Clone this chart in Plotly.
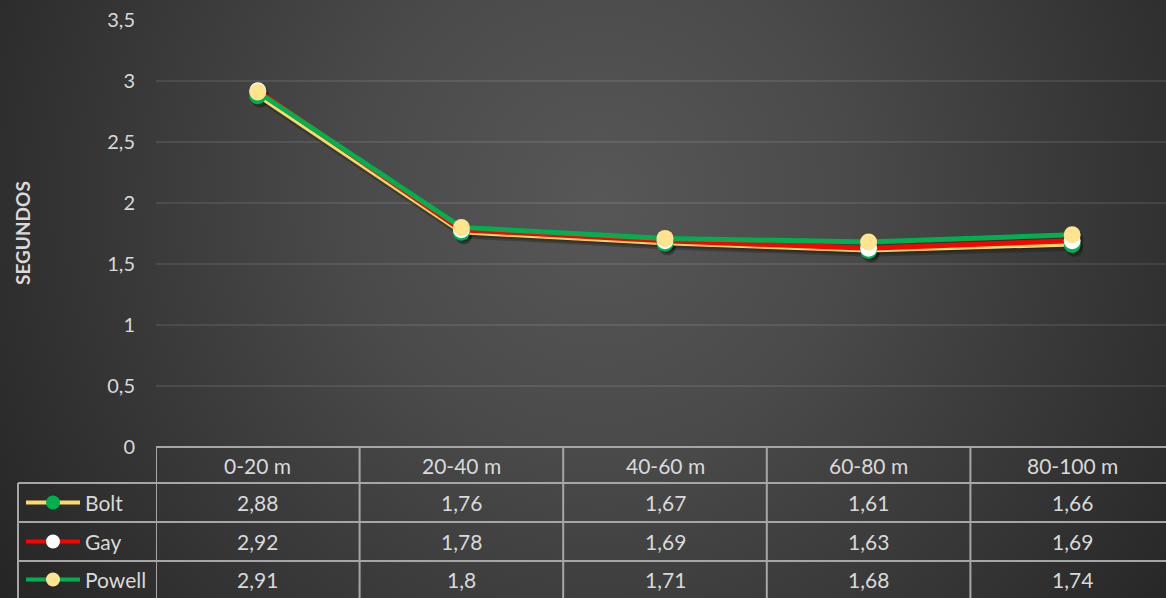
import base64
import plotly.graph_objects as go

# Split times (seconds) per 20 m segment of the 100 m final
segments = ["0-20 m", "20-40 m", "40-60 m", "60-80 m", "80-100 m"]
athletes = ["Bolt", "Gay", "Powell"]
bolt = [2.88, 1.76, 1.67, 1.61, 1.66]
gay = [2.92, 1.78, 1.69, 1.63, 1.69]
powell = [2.91, 1.80, 1.71, 1.68, 1.74]
y_ticks = [0, 0.5, 1, 1.5, 2, 2.5, 3, 3.5]
y_ticktext = ["0", "0,5", "1", "1,5", "2", "2,5", "3", "3,5"]

series = [bolt, gay, powell]
line_colors = ["#FFD966", "#FF0000", "#00B050"]
marker_colors = ["#00B050", "#FFFFFF", "#FFE38F"]
line_widths = [4, 5, 5]

W, H = 1166, 598
FONT = "Lato, 'Open Sans', sans-serif"
TXT = "#d9d9d9"
GRIDC = "rgba(255,255,255,0.09)"
TABLEC = "#a6a6a6"
FS = 21


def fmt(v):
    s = ("%.2f" % v).rstrip("0").rstrip(".")
    return s.replace(".", ",")


def px_x(p):
    return p / W


def px_y(p):
    return 1 - p / H


# radial gradient backdrop
svg = f"""<svg xmlns='http://www.w3.org/2000/svg' width='{W}' height='{H}'>
<defs><radialGradient id='g' gradientUnits='userSpaceOnUse' cx='600' cy='200' r='720'>
<stop offset='0' stop-color='#575757'/>
<stop offset='0.35' stop-color='#4a4a4a'/>
<stop offset='1' stop-color='#252525'/>
</radialGradient></defs>
<rect width='{W}' height='{H}' fill='url(#g)'/></svg>"""
bg_src = "data:image/svg+xml;base64," + base64.b64encode(svg.encode()).decode()

fig = go.Figure()
xs = list(range(len(segments)))

# soft drop shadows first, so they never darken another series
for vals, lw in zip(series, line_widths):
    fig.add_trace(go.Scatter(
        x=[x + 0.012 for x in xs], y=[v - 0.03 for v in vals], mode="lines+markers",
        line=dict(color="rgba(0,0,0,0.22)", width=lw + 1),
        marker=dict(size=17, color="rgba(0,0,0,0.3)"),
        hoverinfo="skip", showlegend=False,
    ))

for vals, lc, mc, lw, name in zip(series, line_colors, marker_colors, line_widths, athletes):
    fig.add_trace(go.Scatter(
        x=xs, y=vals, mode="lines+markers", name=name,
        line=dict(color=lc, width=lw),
        marker=dict(size=17, color=mc, line=dict(width=0)),
        showlegend=False,
    ))

shapes = []
annotations = []

# data table grid
y_top, y_h, y_r1, y_r2 = 447, 483, 522, 561
boundaries = [i - 0.5 for i in range(len(segments))]
for b in boundaries:
    shapes.append(dict(type="line", xref="x", yref="paper", x0=b, x1=b,
                       y0=px_y(y_top), y1=0, line=dict(color=TABLEC, width=2)))
shapes.append(dict(type="line", xref="paper", yref="paper", x0=px_x(156), x1=1,
                   y0=px_y(y_top), y1=px_y(y_top), line=dict(color=TABLEC, width=2)))
for yy in (y_h, y_r1, y_r2):
    shapes.append(dict(type="line", xref="paper", yref="paper", x0=px_x(18), x1=1,
                       y0=px_y(yy), y1=px_y(yy), line=dict(color=TABLEC, width=2)))
shapes.append(dict(type="line", xref="paper", yref="paper", x0=px_x(18), x1=px_x(18),
                   y0=px_y(y_h), y1=0, line=dict(color=TABLEC, width=2)))

# header row
for i, seg in enumerate(segments):
    annotations.append(dict(x=i, y=px_y((y_top + y_h) / 2), xref="x", yref="paper",
                            text=seg, showarrow=False, xanchor="center", yanchor="middle",
                            font=dict(family=FONT, size=FS, color=TXT)))

row_centers = [(y_h + y_r1) / 2, (y_r1 + y_r2) / 2, (y_r2 + H) / 2]
for name, vals, lc, mc, yc in zip(athletes, series, line_colors, marker_colors, row_centers):
    for i, v in enumerate(vals):
        annotations.append(dict(x=i, y=px_y(yc), xref="x", yref="paper",
                                text=fmt(v), showarrow=False,
                                xanchor="center", yanchor="middle",
                                font=dict(family=FONT, size=FS, color=TXT)))
    # legend key
    shapes.append(dict(type="line", xref="paper", yref="paper",
                       x0=px_x(26), x1=px_x(80), y0=px_y(yc), y1=px_y(yc),
                       line=dict(color=lc, width=4)))
    r = 7
    shapes.append(dict(type="circle", xref="paper", yref="paper",
                       x0=px_x(53 - r), x1=px_x(53 + r), y0=px_y(yc + r), y1=px_y(yc - r),
                       fillcolor=mc, line=dict(width=0)))
    annotations.append(dict(x=px_x(83), y=px_y(yc), xref="paper", yref="paper",
                            text=name, showarrow=False, xanchor="left", yanchor="middle",
                            font=dict(family=FONT, size=FS, color=TXT)))

# axis title
annotations.append(dict(x=px_x(22), y=px_y(233), xref="paper", yref="paper",
                        text="<b>SEGUNDOS</b>", textangle=-90, showarrow=False,
                        xanchor="center", yanchor="middle",
                        font=dict(family=FONT, size=19, color=TXT)))

fig.update_layout(
    width=W, height=H,
    margin=dict(l=0, r=0, t=0, b=0, autoexpand=False),
    paper_bgcolor="#333333",
    plot_bgcolor="rgba(0,0,0,0)",
    images=[dict(source=bg_src, xref="paper", yref="paper", x=0, y=1,
                 sizex=1, sizey=1, sizing="stretch", layer="below")],
    xaxis=dict(domain=[px_x(156), 1], range=[-0.5, -0.5 + (W - 156) / 203.6],
               showgrid=False, zeroline=False, showticklabels=False, ticks="",
               automargin=False),
    yaxis=dict(domain=[px_y(447), px_y(20)], range=[0, 3.5],
               tickvals=y_ticks, ticktext=y_ticktext, showgrid=True,
               gridcolor=GRIDC, gridwidth=2, zeroline=False, ticks="",
               ticklabelstandoff=20, automargin=False,
               tickfont=dict(family=FONT, size=FS - 1, color=TXT)),
    shapes=shapes,
    annotations=annotations,
    showlegend=False,
)

fig.write_html("out.html")
